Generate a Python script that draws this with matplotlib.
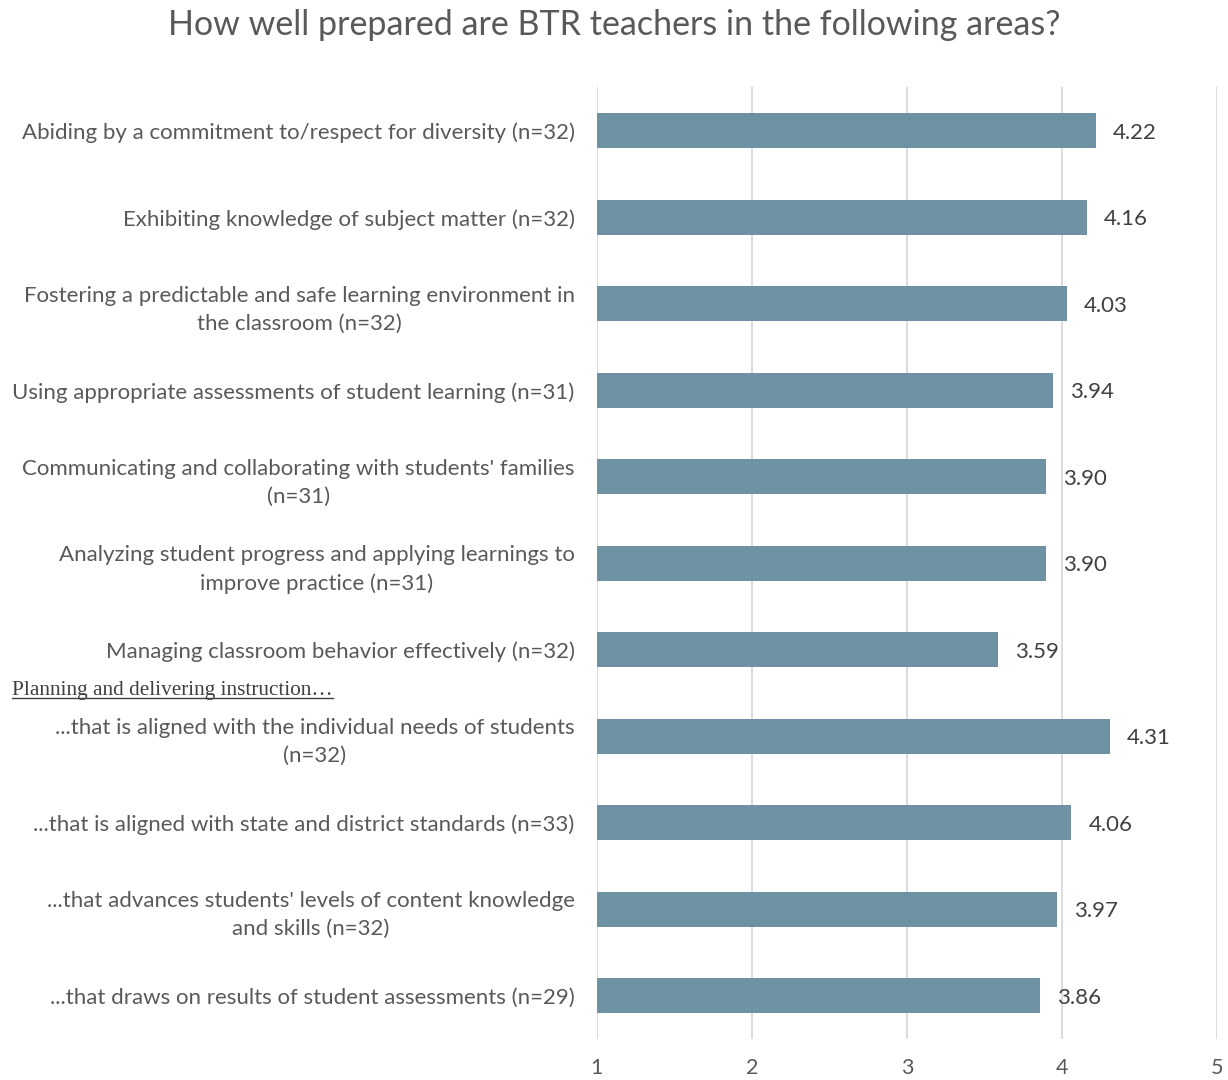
import matplotlib.pyplot as plt
from matplotlib.lines import Line2D

plt.rcParams["font.family"] = ["Lato", "DejaVu Sans"]

title = "How well prepared are BTR teachers in the following areas?"
labels = [
    "Abiding by a commitment to/respect for diversity (n=32)",
    "Exhibiting knowledge of subject matter (n=32)",
    "Fostering a predictable and safe learning environment in\nthe classroom (n=32)",
    "Using appropriate assessments of student learning (n=31)",
    "Communicating and collaborating with students' families\n(n=31)",
    "Analyzing student progress and applying learnings to\nimprove practice (n=31)",
    "Managing classroom behavior effectively (n=32)",
    "...that is aligned with the individual needs of students\n(n=32)",
    "...that is aligned with state and district standards (n=33)",
    "...that advances students' levels of content knowledge\nand skills (n=32)",
    "...that draws on results of student assessments (n=29)",
]
values = [4.22, 4.16, 4.03, 3.94, 3.90, 3.90, 3.59, 4.31, 4.06, 3.97, 3.86]
group_heading = "Planning and delivering instruction\u2026"
x_ticks = [1, 2, 3, 4, 5]

BAR = "#6f91a4"
TEXT = "#595959"

fig = plt.figure(figsize=(12.28, 10.8), dpi=100)
ax = fig.add_axes([0.486, 0.038, 0.505, 0.881])

ypos = list(range(len(values)))
ax.barh(ypos, [v - 1 for v in values], left=1, height=0.40, color=BAR, zorder=3)
for y, v in zip(ypos, values):
    ax.text(v + 0.11, y, f"{v:.2f}", va="center_baseline", ha="left",
            fontsize=16, color="#404040")

ax.set_xlim(1, 5)
ax.set_ylim(len(values) - 0.5, -0.5)
ax.set_xticks(x_ticks)
ax.set_xticklabels([str(t) for t in x_ticks], fontsize=15.5, color=TEXT)
ax.set_yticks(ypos)
ax.set_yticklabels(labels, fontsize=16, color=TEXT, multialignment="center", linespacing=1.5)
ax.tick_params(axis="y", length=0, pad=16)
ax.tick_params(axis="x", length=0, pad=14)
ax.grid(axis="x", color="#d9d9d9", linewidth=1.3, zorder=0)
for s in ax.spines.values():
    s.set_visible(False)

fig.suptitle(title, y=0.992, va="top", fontsize=24.5, color=TEXT)

head = fig.text(12 / 1228, 1 - 690 / 1080, group_heading, fontsize=15.3,
                family=["Liberation Serif"], color="#404040", va="center", ha="left")
fig.canvas.draw()
bb = head.get_window_extent().transformed(fig.transFigure.inverted())
fig.add_artist(Line2D([bb.x0, bb.x1], [bb.y0 + 0.001, bb.y0 + 0.001],
                      transform=fig.transFigure, color="#404040", linewidth=1))

fig.savefig("out.png", dpi=100, facecolor="white")
